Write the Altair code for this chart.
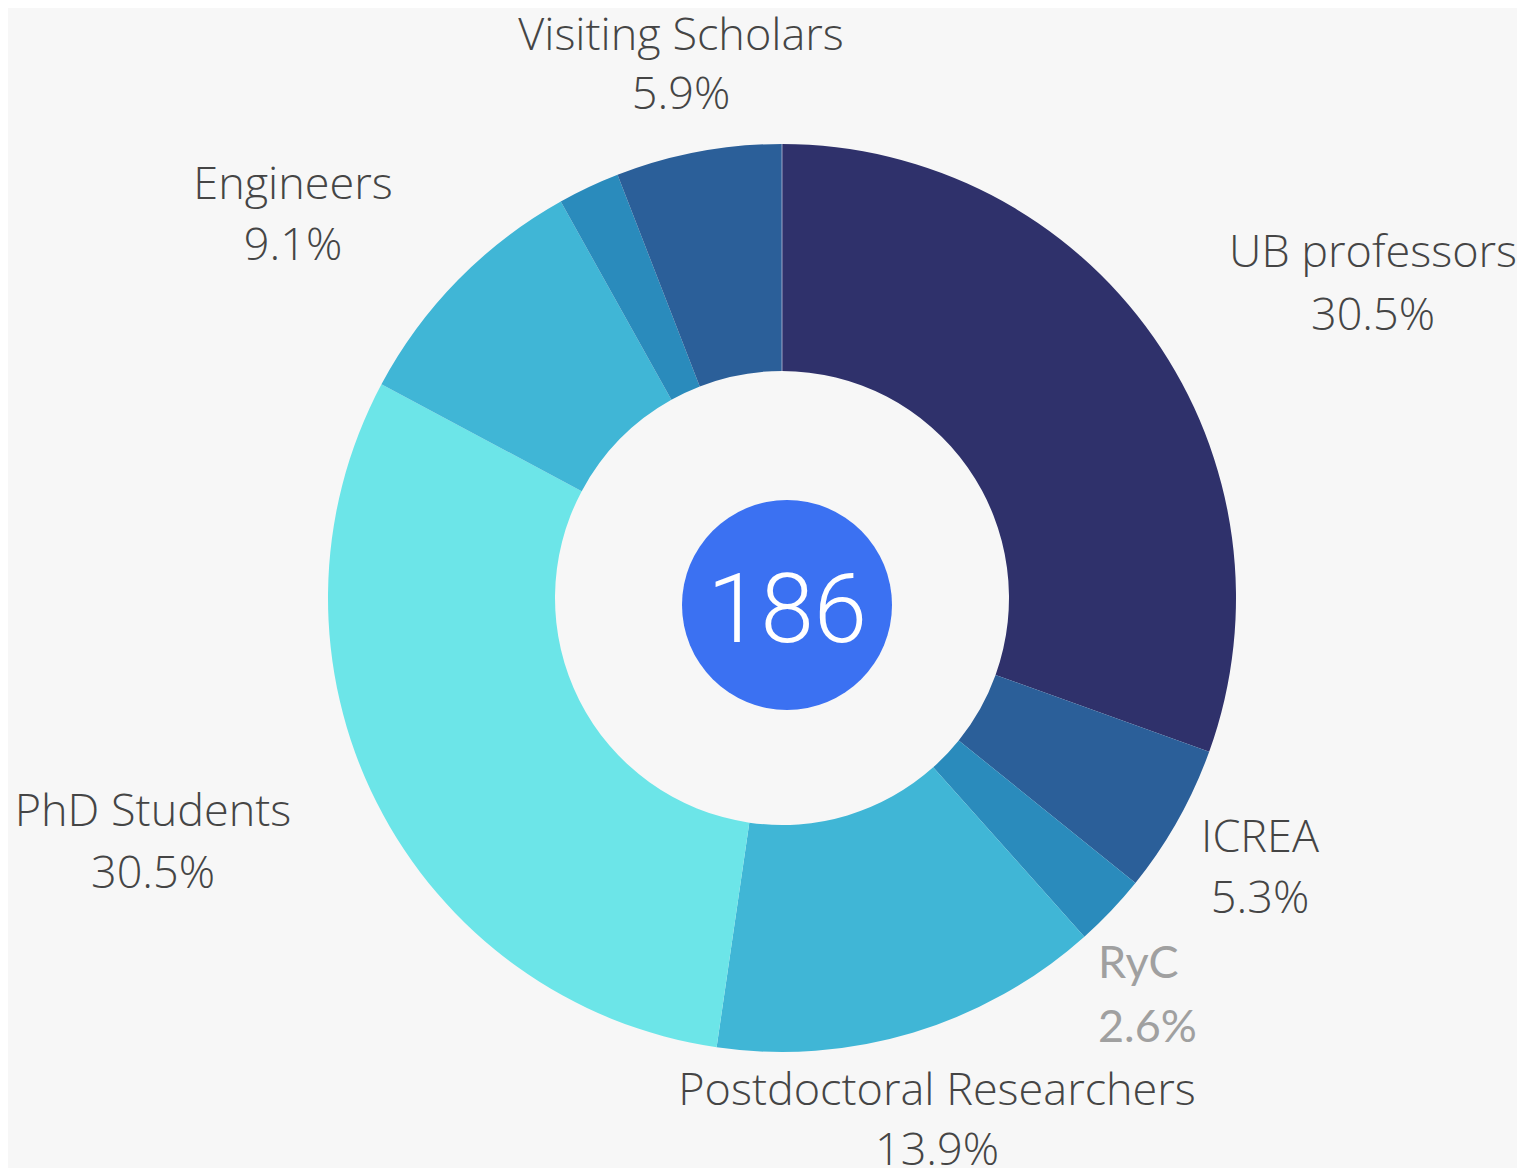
import altair as alt
import pandas as pd

# ---------------- data ----------------
categories = ["UB professors", "ICREA", "RyC", "Postdoctoral Researchers",
              "PhD Students", "Engineers", "Other", "Visiting Scholars"]
shares = [30.5, 5.3, 2.6, 13.9, 30.5, 9.1, 2.2, 5.9]
pct_labels = ["30.5%", "5.3%", "2.6%", "13.9%", "30.5%", "9.1%", "", "5.9%"]
total_people = [186]

# ---------------- style / layout ----------------
colors = ["#2F316B", "#2B5F99", "#2A8BBC", "#40B6D6",
          "#6CE5E8", "#40B6D6", "#2A8BBC", "#2B5F99"]
BG = "#F7F7F7"
CX, CY = 774, 590          # donut centre (plot coords)
R_OUT, R_IN = 454, 227
CIRCLE_X, CIRCLE_Y, CIRCLE_R = 779, 597, 105
FONT = "Open Sans"
TEXT_COLOR = "#454545"

# label anchor: (x centre, baseline of name, baseline of percentage)
label_layout = {
    "UB professors": (1365, 259, 322),
    "ICREA": (1252, 844, 905),
    "Postdoctoral Researchers": (929, 1097, 1157),
    "PhD Students": (145, 818, 880),
    "Engineers": (285, 191, 252),
    "Visiting Scholars": (673, 42, 101),
}
ryc_layout = (1090, 970, 1034)  # left aligned

df = pd.DataFrame({
    "category": categories,
    "share": shares,
    "pct": pct_labels,
    "order": list(range(len(categories))),
})

lab_rows = []
for cat, pct in zip(categories, pct_labels):
    if cat in label_layout:
        x, yn, yp = label_layout[cat]
        lab_rows.append({"category": cat, "pct": pct, "x": x, "yn": yn, "yp": yp})
lab = pd.DataFrame(lab_rows)

ryc_i = categories.index("RyC")
ryc = pd.DataFrame([{"category": categories[ryc_i], "pct": pct_labels[ryc_i],
                     "x": ryc_layout[0], "yn": ryc_layout[1], "yp": ryc_layout[2]}])

donut = alt.Chart(df).mark_arc(outerRadius=R_OUT, innerRadius=R_IN).encode(
    theta=alt.Theta("share:Q", stack=True),
    order=alt.Order("order:Q"),
    color=alt.Color("category:N",
                    scale=alt.Scale(domain=categories, range=colors),
                    legend=None),
    x=alt.value(CX),
    y=alt.value(CY),
)

# thin light separator at 12 o'clock (start of the ring)
separator = alt.Chart(pd.DataFrame({"a": [0]})).mark_rule(
    color="#B8BCD6", strokeWidth=1, opacity=0.8
).encode(x=alt.value(CX), y=alt.value(CY - R_OUT), y2=alt.value(CY - R_IN))

names = alt.Chart(lab).mark_text(
    font=FONT, fontSize=45, fontWeight=300, color=TEXT_COLOR,
    align="center", baseline="alphabetic",
).encode(
    x=alt.X("x:Q", scale=None), y=alt.Y("yn:Q", scale=None), text="category:N"
)
pcts = alt.Chart(lab).mark_text(
    font=FONT, fontSize=45, fontWeight=300, color=TEXT_COLOR,
    align="center", baseline="alphabetic",
).encode(
    x=alt.X("x:Q", scale=None), y=alt.Y("yp:Q", scale=None), text="pct:N"
)

ryc_name = alt.Chart(ryc).mark_text(
    font="Lato", fontSize=45, color="#A0A0A0", align="left", baseline="alphabetic",
).encode(x=alt.X("x:Q", scale=None), y=alt.Y("yn:Q", scale=None), text="category:N")
ryc_pct = alt.Chart(ryc).mark_text(
    font="Lato", fontSize=45, color="#A0A0A0", align="left", baseline="alphabetic",
).encode(x=alt.X("x:Q", scale=None), y=alt.Y("yp:Q", scale=None), text="pct:N")

centre_df = pd.DataFrame({"total": total_people})
circle = alt.Chart(centre_df).mark_circle(
    size=(2 * CIRCLE_R) ** 2, color="#3B71F2", opacity=1
).encode(x=alt.value(CIRCLE_X), y=alt.value(CIRCLE_Y))
centre_text = alt.Chart(centre_df).mark_text(
    font="Roboto", fontSize=96, fontWeight=300, color="white", align="center",
    baseline="alphabetic",
).encode(x=alt.value(CIRCLE_X), y=alt.value(CIRCLE_Y + 37), text="total:N")

chart = alt.layer(donut, separator, circle, centre_text, names, pcts,
                  ryc_name, ryc_pct).properties(
    width=1509, height=1160,
    autosize=alt.AutoSizeParams(type="fit", contains="padding"),
    padding=0,
    background=BG,
).configure_view(stroke=None)

chart.save("out.html", embed_options={"renderer": "svg", "actions": False})
